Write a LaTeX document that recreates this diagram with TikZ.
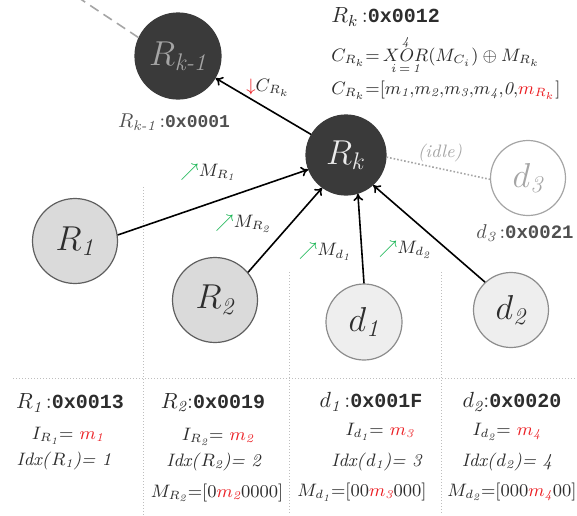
\documentclass[tikz,border=0pt]{standalone}
\usepackage{amsmath}
\usepackage{fontspec}
\setmonofont{Liberation Mono}
\usetikzlibrary{arrows.meta}

\definecolor{nodedark}{RGB}{58,58,58}
\definecolor{midfill}{RGB}{218,218,218}
\definecolor{midline}{RGB}{95,95,95}
\definecolor{lightfill}{RGB}{238,238,238}
\definecolor{lightline}{RGB}{140,140,140}
\definecolor{idleline}{RGB}{165,165,165}
\definecolor{idlelbl}{RGB}{80,80,80}
\definecolor{txtgray}{RGB}{45,45,45}
\definecolor{sepgray}{RGB}{190,190,190}
\definecolor{lblred}{RGB}{235,30,35}
\definecolor{upgreen}{RGB}{20,180,80}

\newcommand{\hexid}[2][10]{{\ttfamily\bfseries\fontsize{#1}{12}\selectfont #2}}
\newcommand{\upmark}{\textcolor{upgreen}{$\nearrow$}}
\newcommand{\downmark}{\textcolor{lblred}{$\downarrow$}}

\begin{document}
\begin{tikzpicture}[x=0.5pt, y=-0.5pt,
    bignode/.style={circle, inner sep=0pt, line width=0.6pt, font=\fontsize{17.28}{20}\selectfont},
    darknode/.style={bignode, fill=nodedark, draw=nodedark},
    midnode/.style={bignode, fill=midfill, draw=midline, text=txtgray},
    lightnode/.style={bignode, fill=lightfill, draw=lightline, text=txtgray},
    idlenode/.style={bignode, fill=white, draw=idleline, text=idleline},
    conn/.style={-{To[length=3.5pt,width=5pt]}, line width=0.8pt},
    lbl/.style={text=txtgray, font=\fontsize{9}{11}\selectfont, inner sep=1pt},
    hdr/.style={text=txtgray, font=\fontsize{11}{13}\selectfont, inner sep=1pt},
    sepline/.style={sepgray, densely dotted, line width=0.5pt}]

  \useasboundingbox (0,0) rectangle (577,515);

  % column separators
  \draw[sepline] (13,378) -- (577,378);
  \draw[sepline] (143,187) -- (143,515);
  \draw[sepline] (289,272) -- (289,515);
  \draw[sepline] (441,272) -- (441,515);

  % relays and devices
  \node[darknode, minimum size=43pt, text=idleline] (Rk1) at (178,56) {$R_{\textit{k-1}}$};
  \node[darknode, minimum size=40pt, text=white!92!black] (Rk) at (346,155) {$R_k$};
  \node[midnode, minimum size=42.5pt] (R1) at (75,241) {$R_{\mathit 1}$};
  \node[midnode, minimum size=42.5pt] (R2) at (215,300) {$R_{\mathit 2}$};
  \node[lightnode, minimum size=38pt] (d1) at (364,322) {$d_{\mathit 1}$};
  \node[lightnode, minimum size=37.5pt] (d2) at (511,310) {$d_{\mathit 2}$};
  \node[idlenode, minimum size=37.5pt] (d3) at (528,178) {$d_{\mathit 3}$};

  % links
  \coordinate (kfar) at (76,-4);
  \draw[gray!70, line width=0.8pt, dash pattern=on 5pt off 3pt] (Rk1.155) -- (kfar);
  \draw[conn] (Rk) -- (Rk1);
  \draw[conn] (R1.8) -- (Rk.201);
  \draw[conn] (R2.40) -- (Rk.234);
  \draw[conn] (d1.90) -- (Rk.287);
  \draw[conn] (d2.133) -- (Rk.312);
  \draw[idleline, densely dotted, line width=0.8pt] (Rk.357) -- (d3.182);

  % link labels
  \node[lbl] (cRk) at (268,88) {\downmark$C_{R_k}$};
  \node[lbl] (mR1) at (208,172) {\upmark$M_{R_{\mathit 1}}$};
  \node[lbl] (mR2) at (243,224) {\upmark$M_{R_{\mathit 2}}$};
  \node[lbl] (md1) at (325,252) {\upmark$M_{d_{\mathit 1}}$};
  \node[lbl] (md2) at (405,250) {\upmark$M_{d_{\mathit 2}}$};
  \node[lbl, text=idleline] (idle) at (440,153) {\textit{(idle)}};

  % R_k and its code word
  \node[hdr, anchor=west] (hdRk) at (329,17) {$R_k$\,:\hexid{0x0012}};
  \node[lbl, anchor=west] (xorRk) at (329,55)
    {$C_{R_k}{=}\mathop{XOR}\limits_{i\,=\,\mathit 1}^{\mathit 4}(M_{C_i})\oplus M_{R_k}$};
  \node[lbl, anchor=west] (vecRk) at (329,90)
    {$C_{R_k}{=}[m_{\mathit 1}{,}m_{\mathit 2}{,}m_{\mathit 3}{,}m_{\mathit 4}{,}\mathit 0{,}\textcolor{lblred}{m_{R_k}}]$};

  \node[lbl, text=idlelbl, font=\fontsize{10}{12}\selectfont] (hdRk1) at (174,122) {$R_{\textit{k-1}}$\,:\hexid[9]{0x0001}};
  \node[lbl, text=idlelbl, font=\fontsize{10}{12}\selectfont] (hdd3) at (525,233) {$d_{\mathit 3}$\,:\hexid[9.5]{0x0021}};

  % column R_1
  \node[hdr] (hdR1) at (70,403) {$R_{\mathit 1}$\,:\hexid{0x0013}};
  \node[lbl] (iR1) at (68,436) {$I_{R_{\mathit 1}}{=}\ \textcolor{lblred}{m_{\mathit 1}}$};
  \node[lbl] (idxR1) at (64,461) {\textit{Idx(}$R_{\mathit 1}$\textit{)= 1}};

  % column R_2
  \node[hdr] (hdR2) at (213,403) {$R_{\mathit 2}$:\hexid{0x0019}};
  \node[lbl] (iR2) at (218,437) {$I_{R_{\mathit 2}}{=}\ \textcolor{lblred}{m_{\mathit 2}}$};
  \node[lbl] (idxR2) at (214,462) {\textit{Idx(}$R_{\mathit 2}$\textit{)= 2}};
  \node[lbl] (vR2) at (217,493) {$M_{R_{\mathit 2}}{=}[0\textcolor{lblred}{m_{\mathit 2}}0000]$};

  % column d_1
  \node[hdr] (hdd1) at (371,402) {$d_{\mathit 1}$\,:\hexid{0x001F}};
  \node[lbl] (id1) at (380,432) {$I_{d_{\mathit 1}}{=}\ \textcolor{lblred}{m_{\mathit 3}}$};
  \node[lbl] (idxd1) at (377,462) {\textit{Idx(}$d_{\mathit 1}$\textit{)= 3}};
  \node[lbl] (vd1) at (362,492) {$M_{d_{\mathit 1}}{=}[00\textcolor{lblred}{m_{\mathit 3}}000]$};

  % column d_2
  \node[hdr] (hdd2) at (512,402) {$d_{\mathit 2}$:\hexid{0x0020}};
  \node[lbl] (id2) at (507,432) {$I_{d_{\mathit 2}}{=}\ \textcolor{lblred}{m_{\mathit 4}}$};
  \node[lbl] (idxd2) at (507,462) {\textit{Idx(}$d_{\mathit 2}$\textit{)= 4}};
  \node[lbl] (vd2) at (512,492) {$M_{d_{\mathit 2}}{=}[000\textcolor{lblred}{m_{\mathit 4}}00]$};

\end{tikzpicture}
\end{document}
